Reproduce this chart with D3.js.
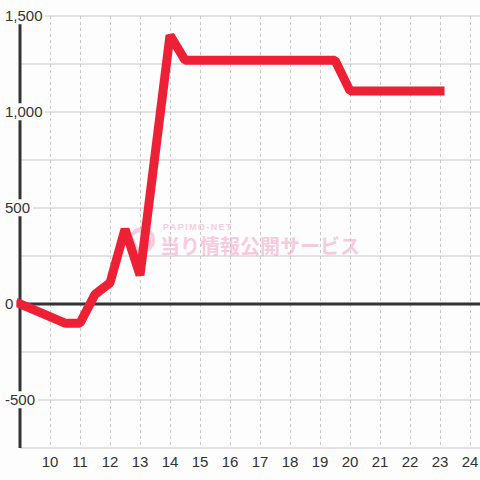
<!DOCTYPE html>
<html>
<head>
<meta charset="utf-8">
<script src="https://cdn.jsdelivr.net/npm/d3@7"></script>
<style>
  html, body { margin: 0; padding: 0; background: #fcfdfc; }
  svg { display: block; font-family: "Liberation Sans", Arial, sans-serif; }
</style>
</head>
<body>
<svg id="chart" width="480" height="480"></svg>
<script>
// hour of day -> balance
const hours = [9, 10.5, 11, 11.5, 12, 12.5, 13, 14, 14.5, 19.5, 20, 23];
const values = [0, -100, -100, 50, 110, 390, 150, 1400, 1270, 1270, 1110, 1110];

const xTicks = [10, 11, 12, 13, 14, 15, 16, 17, 18, 19, 20, 21, 22, 23, 24];
const yGrid = [-750, -500, -250, 0, 250, 500, 750, 1000, 1250, 1500];
const yLabels = [-500, 0, 500, 1000, 1500];

const chartW = 480;
const plotLeft = 20, plotTop = 16, plotBottom = 448;

const svg = d3.select("#chart");

const x = d3.scaleLinear().domain([9, 24]).range([plotLeft, 470]);
const y = d3.scaleLinear().domain([-750, 1500]).range([plotBottom, plotTop]);

// horizontal grid
svg.append("g")
  .selectAll("line")
  .data(yGrid)
  .join("line")
  .attr("x1", plotLeft)
  .attr("x2", chartW)
  .attr("y1", (d) => y(d))
  .attr("y2", (d) => y(d))
  .attr("stroke", "#c8c8c8")
  .attr("stroke-width", 1);

// vertical dashed grid
svg.append("g")
  .selectAll("line")
  .data(xTicks)
  .join("line")
  .attr("x1", (d) => x(d) + 0.5)
  .attr("x2", (d) => x(d) + 0.5)
  .attr("y1", plotTop)
  .attr("y2", plotBottom)
  .attr("stroke", "#c8c8c8")
  .attr("stroke-width", 1)
  .attr("stroke-dasharray", "3,3");

// watermark
const wm = svg.append("g").attr("opacity", 0.55);
wm.append("circle").attr("cx", 142).attr("cy", 240).attr("r", 13).attr("fill", "#f4a3c6");
wm.append("path")
  .attr("d", "M133,236 Q142,228 151,236 L146,248 Q142,242 138,248 Z")
  .attr("fill", "#fcfdfc");
wm.append("text")
  .attr("x", 163)
  .attr("y", 230)
  .attr("font-size", 9)
  .attr("font-weight", "bold")
  .attr("letter-spacing", "1.4")
  .attr("fill", "#f4a3c6")
  .text("PAPIMO-NET");
wm.append("text")
  .attr("x", 160)
  .attr("y", 254)
  .attr("font-size", 20)
  .attr("font-weight", "bold")
  .attr("font-family", "'Noto Sans CJK JP', sans-serif")
  .attr("fill", "#f4a3c6")
  .text("当り情報公開サービス");

// y axis and zero line
svg.append("line")
  .attr("x1", plotLeft).attr("x2", plotLeft)
  .attr("y1", plotTop).attr("y2", plotBottom)
  .attr("stroke", "#333").attr("stroke-width", 3);
svg.append("line")
  .attr("x1", plotLeft).attr("x2", chartW)
  .attr("y1", y(0)).attr("y2", y(0))
  .attr("stroke", "#333").attr("stroke-width", 3);

// data line
const line = d3.line()
  .x((d, i) => x(hours[i]))
  .y((d) => y(d));

svg.append("path")
  .attr("d", line(values))
  .attr("fill", "none")
  .attr("stroke", "#ee2036")
  .attr("stroke-width", 9)
  .attr("stroke-linecap", "square")
  .attr("stroke-linejoin", "bevel");

// y labels with background
const fmt = d3.format(",");
const yl = svg.append("g")
  .selectAll("g")
  .data(yLabels)
  .join("g");
const yt = yl.append("text")
  .attr("x", 5)
  .attr("y", (d) => y(d))
  .attr("dy", "0.35em")
  .attr("font-size", 15)
  .attr("fill", "#333")
  .text((d) => (d < 0 ? "-" + fmt(-d) : fmt(d)));
yt.each(function () {
  const b = this.getBBox();
  d3.select(this.parentNode)
    .insert("rect", "text")
    .attr("x", b.x - 2)
    .attr("y", b.y)
    .attr("width", b.width + 5)
    .attr("height", b.height)
    .attr("fill", "#fcfdfc");
});

// x labels
svg.append("g")
  .selectAll("text")
  .data(xTicks)
  .join("text")
  .attr("x", (d) => x(d))
  .attr("y", 467)
  .attr("text-anchor", "middle")
  .attr("font-size", 15)
  .attr("fill", "#333")
  .text((d) => d);
</script>
</body>
</html>
